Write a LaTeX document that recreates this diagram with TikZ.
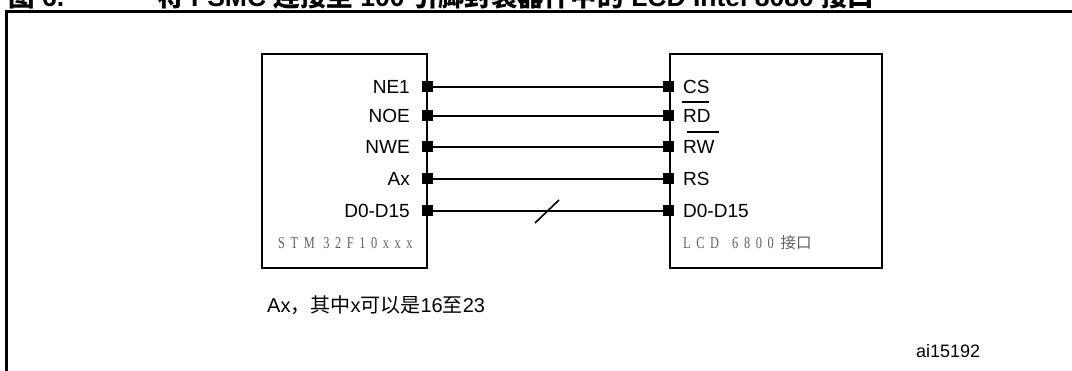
\documentclass[tikz,border=0pt]{standalone}
\usepackage{graphicx}
\usepackage{fontspec}
\setmainfont{Liberation Sans}
\newfontfamily\cjk{Noto Sans CJK SC}
\newfontfamily\serl[LetterSpace=45]{Liberation Serif}
\usetikzlibrary{calc}
\begin{document}
\begin{tikzpicture}[x=1pt,y=-1pt,
  frame/.style={line width=3pt},
  chipbox/.style={draw, line width=2.5pt, inner sep=0pt, outer sep=0pt, anchor=north west},
  pinsq/.style={fill=black, minimum width=11pt, minimum height=11pt, inner sep=0pt, outer sep=0pt},
  wire/.style={line width=1.6pt},
  ovl/.style={line width=1.4pt},
  lbl/.style={inner sep=0pt, font=\fontsize{19}{19}\selectfont},
  chiplbl/.style={inner sep=0pt, anchor=base west, text=black!62, font=\fontsize{16.5}{16.5}\selectfont\serl},
  ttl/.style={inner sep=0pt, anchor=base west, font=\fontsize{26.5}{26.5}\selectfont\bfseries},
]
\useasboundingbox (0,0) rectangle (1072,371);
\fill[white] (0,0) rectangle (1072,371);

% title (cut off at top)
\node[ttl] (fig) at (8,7) {{\cjk 图} 6.};
\node[ttl] (title) at (157,7) {{\cjk 将} FSMC {\cjk 连接至} 100 {\cjk 引脚封装器件中的} LCD Intel 8080 {\cjk 接口}};

% frame
\draw[frame] (6.5,375) -- (6.5,11.5) -- (1076,11.5);

% boxes
\node[chipbox, minimum width=165pt, minimum height=214pt] (stm) at (262,54) {};
\node[chipbox, minimum width=212pt, minimum height=214pt] (lcd) at (670,54) {};

% pins
\foreach \n/\y in {1/87,2/116,3/147,4/179,5/211}{
  \node[pinsq] (l\n) at (427,\y) {};
  \node[pinsq] (r\n) at (668,\y) {};
  \draw[wire] (l\n) -- (r\n);
}

% left labels
\node[lbl, anchor=base east] (tne) at (410,94) {NE1};
\node[lbl, anchor=base east] (tnoe) at (410,123) {NOE};
\node[lbl, anchor=base east] (tnwe) at (410,154) {NWE};
\node[lbl, anchor=base east] (tax) at (410,186) {Ax};
\node[lbl, anchor=base east] (tdl) at (410,218) {D0-D15};

% right labels
\node[lbl, anchor=base west] (tcs) at (683,94) {CS};
\node[lbl, anchor=base west] (trd) at (683,123) {RD};
\node[lbl, anchor=base west] (trw) at (683,154) {RW};
\node[lbl, anchor=base west] (trs) at (683,186) {RS};
\node[lbl, anchor=base west] (tdr) at (683,218) {D0-D15};
\draw[ovl] ([xshift=-1pt,yshift=21pt]trd.base west) -- ([xshift=-2pt,yshift=21pt]trd.base east);
\draw[ovl] ([xshift=4pt,yshift=22pt]trw.base west) -- ([xshift=4pt,yshift=22pt]trw.base east);

% bus slash
\coordinate (sl) at (547,211);
\draw[wire] ($(sl)+(-12,12)$) -- ($(sl)+(12,-11)$);

% chip names
\node[chiplbl] (stmname) at (278,249) {\scalebox{0.75}[1]{STM 32F10xxx}};
\node[chiplbl] (lcdname) at (683,249) {\scalebox{0.75}[1]{LCD\hspace{6pt} 6800}\hspace{7pt}{\cjk\fontsize{15.5}{15.5}\selectfont 接口}};

% notes
\node[lbl, anchor=base west, font=\fontsize{20}{20}\selectfont] (note) at (267,313) {Ax{\cjk ，其中}x{\cjk 可以是}16{\cjk 至}23};
\node[lbl, anchor=base west, font=\fontsize{18}{18}\selectfont] (ref) at (916,358) {ai15192};
\end{tikzpicture}
\end{document}
